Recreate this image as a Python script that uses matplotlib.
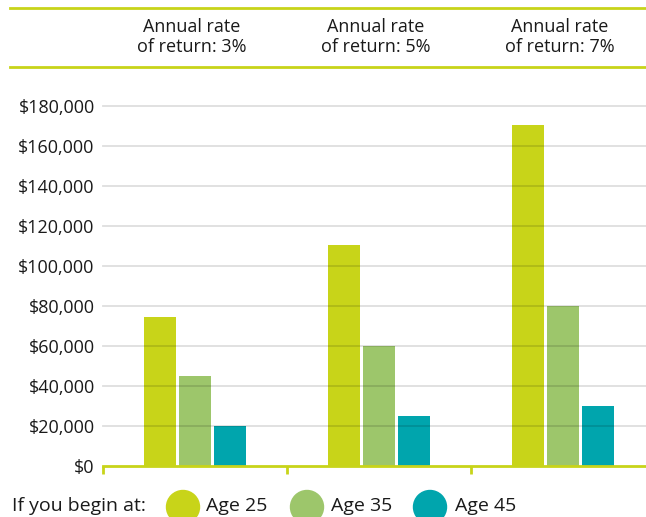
import matplotlib
matplotlib.use("Agg")
import matplotlib.pyplot as plt
import matplotlib.transforms as mtransforms
from matplotlib.patches import Ellipse
import numpy as np

# data
rates = ["3%", "5%", "7%"]
ages = ["Age 25", "Age 35", "Age 45"]
age25 = [74500, 110500, 170500]
age35 = [45000, 60000, 80000]
age45 = [20000, 25000, 30000]
yticks = [0, 20000, 40000, 60000, 80000, 100000, 120000, 140000, 160000, 180000]

colors = ["#c8d419", "#9dc66b", "#00a5ad"]
lime = "#c8d419"
ink = "#1a1a1a"

plt.rcParams["font.family"] = ["Open Sans", "DejaVu Sans"]

W, H = 646, 517
fig = plt.figure(figsize=(W / 100, H / 100), dpi=100)

# axes box in pixels: left 103, right 646, bottom 466, top 106
ax = fig.add_axes([103 / W, (H - 466) / H, (W - 103) / W, (466 - 106) / H])

x = np.arange(len(rates))
width = 0.177
offset = 0.19
for i, (vals, c) in enumerate(zip([age25, age35, age45], colors)):
    ax.bar(x + (i - 1) * offset, vals, width, color=c, zorder=2)

ax.set_xlim(-0.5, -0.5 + (W - 103) / 184)
ax.set_ylim(0, 180000)

# light gridlines drawn over the bars
for t in yticks[1:]:
    ax.axhline(t, color=(0, 0, 0, 0.13), lw=1.3, zorder=3, clip_on=False)

ax.set_yticks(yticks)
ax.set_yticklabels([f"${v:,.0f}" for v in yticks])
ax.tick_params(axis="y", length=0, pad=6, labelsize=13, labelcolor=ink)

ax.set_xticks([-0.5, 0.5, 1.5])
ax.set_xticklabels([])
ax.tick_params(axis="x", direction="out", length=6, width=2, color=lime)

for s in ["top", "right", "left"]:
    ax.spines[s].set_visible(False)
ax.spines["bottom"].set_color(lime)
ax.spines["bottom"].set_linewidth(2)
ax.spines["bottom"].set_zorder(4)

# header band with two rules
for yp in [8, 67]:
    fig.add_artist(plt.Line2D([10 / W, 1], [(H - yp) / H] * 2, color=lime, lw=2,
                              transform=fig.transFigure))
trans = mtransforms.blended_transform_factory(ax.transData, fig.transFigure)
for i, r in enumerate(rates):
    fig.text(x[i] - 0.02, (H - 37) / H, f"Annual rate\nof return: {r}", transform=trans,
             ha="center", va="center", multialignment="center",
             fontsize=13, color=ink, linespacing=1.1)

# legend row
ly = (H - 506) / H
fig.text(12 / W, ly, "If you begin at:", ha="left", va="center", fontsize=14, color=ink)
for cx, tx, lab, c in zip([183, 307, 430], [206, 331, 455], ages, colors):
    fig.add_artist(Ellipse((cx / W, (H - 507) / H), 33 / W, 33 / H, color=c,
                           transform=fig.transFigure))
    fig.text(tx / W, ly, lab, ha="left", va="center", fontsize=14, color=ink)

fig.savefig("out.png", dpi=100)
